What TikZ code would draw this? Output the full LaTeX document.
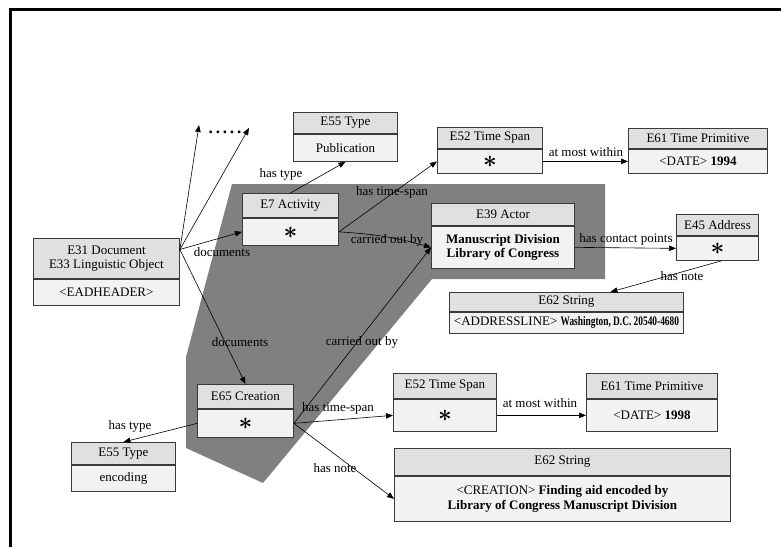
\documentclass[tikz,border=0pt]{standalone}
\usepackage{fontspec}
\setmainfont{Liberation Serif}
\usepackage{graphicx}
\usetikzlibrary{arrows.meta,positioning,calc}

\definecolor{hdrfill}{HTML}{E0E0E0}
\definecolor{bdyfill}{HTML}{F2F2F2}
\definecolor{boxline}{HTML}{3A3A3A}
\definecolor{areagray}{HTML}{808080}

\newcommand{\anyval}{\smash{\raisebox{-6.3pt}{\scalebox{2}{\boldmath$\ast$}}}}

\tikzset{
  hdr/.style={draw=boxline, fill=hdrfill, line width=0.9pt, inner sep=1pt, align=center, anchor=north west},
  bdy/.style={draw=boxline, fill=bdyfill, line width=0.9pt, inner sep=1pt, align=center},
  rel/.style={-{Triangle[length=7pt,width=5.5pt]}, line width=0.6pt},
  lbl/.style={inner sep=0pt}
}

\begin{document}
\begin{tikzpicture}[x=1pt, y=-1pt, font=\fontsize{13}{14.5}\selectfont]
        \useasboundingbox (0,0) rectangle (781,547);

        % frame, cut at right and bottom
        \draw[line width=3pt] (10,547) -- (10,9) -- (781,9);

        % shaded part of the graph
        \fill[areagray] (232,184) -- (605,184) -- (605,279) -- (432,279) -- (263,483)
            -- (186,448) -- (186,357) -- cycle;

        % entities: header and value
        \node[hdr, minimum width=146pt, minimum height=40pt] (e31h) at (33,238) {E31 Document\\E33 Linguistic Object};
        \node[bdy, minimum width=146pt, minimum height=26pt, below=0pt of e31h] (e31) {<EADHEADER>};

        \node[hdr, minimum width=104pt, minimum height=21pt] (e55ah) at (293,112) {E55 Type};
        \node[bdy, minimum width=104pt, minimum height=27pt, below=0pt of e55ah] (e55a) {Publication};

        \node[hdr, minimum width=96pt, minimum height=24pt] (e7h) at (242,193) {E7 Activity};
        \node[bdy, minimum width=96pt, minimum height=27pt, below=0pt of e7h] (e7) {\anyval};

        \node[hdr, minimum width=105pt, minimum height=21pt] (e52ah) at (437,127) {E52 Time Span};
        \node[bdy, minimum width=105pt, minimum height=24pt, below=0pt of e52ah] (e52a) {\anyval};

        \node[hdr, minimum width=139pt, minimum height=20pt] (e61ah) at (628,128) {E61 Time Primitive};
        \node[bdy, minimum width=139pt, minimum height=24pt, below=0pt of e61ah] (e61a) {<DATE> \textbf{1994}};

        \node[hdr, minimum width=143pt, minimum height=22pt] (e39h) at (431,203) {E39 Actor};
        \node[bdy, minimum width=143pt, minimum height=42pt, below=0pt of e39h] (e39) {\textbf{Manuscript Division}\\\textbf{Library of Congress}};

        \node[hdr, minimum width=82pt, minimum height=21pt] (e45h) at (676,214) {E45 Address};
        \node[bdy, minimum width=82pt, minimum height=24pt, below=0pt of e45h] (e45) {\anyval};

        \node[hdr, minimum width=234pt, minimum height=19pt] (e62ah) at (449,292) {E62 String};
        \node[bdy, minimum width=234pt, minimum height=21pt, below=0pt of e62ah] (e62a) {<ADDRESSLINE> \scalebox{0.72}[1]{\textbf{Washington, D.C. 20540-4680}}};

        \node[hdr, minimum width=96pt, minimum height=24pt] (e65h) at (197,384) {E65 Creation};
        \node[bdy, minimum width=96pt, minimum height=28pt, below=0pt of e65h] (e65) {\anyval};

        \node[hdr, minimum width=104pt, minimum height=22pt] (e55bh) at (71,442) {E55 Type};
        \node[bdy, minimum width=104pt, minimum height=26pt, below=0pt of e55bh] (e55b) {encoding};

        \node[hdr, minimum width=103pt, minimum height=25pt] (e52bh) at (393,373) {E52 Time Span};
        \node[bdy, minimum width=103pt, minimum height=32pt, below=0pt of e52bh] (e52b) {\anyval};

        \node[hdr, minimum width=131pt, minimum height=25pt] (e61bh) at (586,373) {E61 Time Primitive};
        \node[bdy, minimum width=131pt, minimum height=32pt, below=0pt of e61bh] (e61b) {<DATE> \textbf{1998}};

        \node[hdr, minimum width=336pt, minimum height=27pt] (e62bh) at (394,448) {E62 String};
        \node[bdy, minimum width=336pt, minimum height=45pt, below=0pt of e62bh] (e62b) {<CREATION> \textbf{Finding aid encoded by}\\\textbf{Library of Congress Manuscript Division}};

        % loose ends
        \coordinate (e31out) at ($(e31h.east)+(0,-9)$);
        \coordinate (moreA) at (199,125);
        \coordinate (moreB) at (249,128);
        \node[lbl, font=\fontsize{17}{17}\selectfont\bfseries] (more) at (225,132) {.\,.\,.\,.\,.};

        % properties
        \draw[rel] (e31out) -- (moreA);
        \draw[rel] (e31out) -- (moreB);
        \draw[rel] (e31out) -- (e7.west);
        \draw[rel] (e31out) -- (e65h.north);
        \draw[rel] (e7h.north) -- (e55a.south);
        \draw[rel] (e7.east) -- (e52a.west);
        \draw[rel] (e7.east) to[bend left=6] (e39.west);
        \draw[rel] (e52a.east) -- (e61a.west);
        \draw[rel] (e39.east) -- (e45.west);
        \draw[rel] ([xshift=4pt]e45.south) -- ([xshift=44pt]e62ah.north);
        \draw[rel] (e65.east) -- (e39.west);
        \draw[rel] (e65.east) -- (e52b.west);
        \draw[rel] (e65.east) -- (e62b.west);
        \draw[rel] (e65.west) -- (e55bh.north);
        \draw[rel] (e52b.east) -- (e61b.west);

        % property names
        \node[lbl] (docA) at (222,252) {documents};
        \node[lbl] (docB) at (240,342) {documents};
        \node[lbl] (typeA) at (281,174) {has type};
        \node[lbl] (spanA) at (392,192) {has time-span};
        \node[lbl] (byA) at (387,240) {carried out by};
        \node[lbl] (withinA) at (586,152) {at most within};
        \node[lbl] (contact) at (626,239) {has contact points};
        \node[lbl] (noteA) at (682,276) {has note};
        \node[lbl] (byB) at (362,342) {carried out by};
        \node[lbl] (spanB) at (338,408) {has time-span};
        \node[lbl] (withinB) at (540,403) {at most within};
        \node[lbl] (noteB) at (335,468) {has note};
        \node[lbl] (typeB) at (130,426) {has type};
\end{tikzpicture}
\end{document}
